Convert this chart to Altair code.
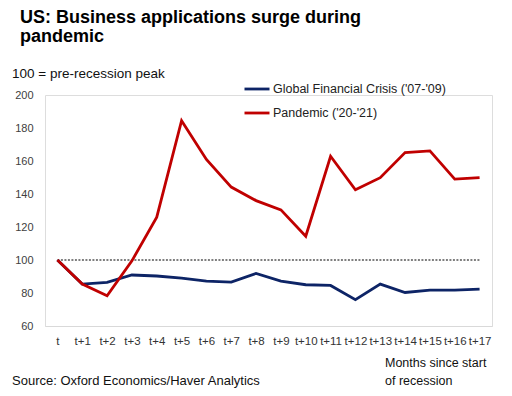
import altair as alt
import pandas as pd

months = ["t", "t+1", "t+2", "t+3", "t+4", "t+5", "t+6", "t+7", "t+8", "t+9",
          "t+10", "t+11", "t+12", "t+13", "t+14", "t+15", "t+16", "t+17"]
gfc = [100, 85.4, 86.4, 90.9, 90.3, 89.0, 87.2, 86.6, 91.9, 87.2,
       85.0, 84.6, 76.0, 85.4, 80.3, 81.7, 81.7, 82.3]
pandemic = [100, 85.4, 78.3, 99.5, 126.0, 184.4, 160.9, 144.2, 136.0, 130.4,
            114.4, 162.9, 142.6, 149.9, 165.1, 166.1, 149.0, 149.9]
series_names = ["Global Financial Crisis ('07-'09)", "Pandemic ('20-'21)"]
series_colors = ["#0d2466", "#c00000"]
y_ticks = [60, 80, 100, 120, 140, 160, 180, 200]
ref_level = 100

FONT = "Liberation Sans"

rows = []
for m, a, b in zip(months, gfc, pandemic):
    rows.append({"month": m, "series": series_names[0], "value": a})
    rows.append({"month": m, "series": series_names[1], "value": b})
df = pd.DataFrame(rows)

ref_df = pd.DataFrame({"month": [months[0], months[-1]], "value": [ref_level, ref_level]})

xscale = alt.Scale(type="point", padding=0.5, domain=months)
yscale = alt.Scale(domain=[60, 200], nice=False, zero=False)

x_enc = alt.X("month:N", sort=months, scale=xscale,
              axis=alt.Axis(title=None, labelAngle=0, labelOverlap=False, ticks=False,
                            domainColor="#d9d9d9", domainWidth=1, labelFontSize=11.5,
                            labelColor="#333333", labelPadding=9, labelFont=FONT))
y_enc = alt.Y("value:Q", scale=yscale,
              axis=alt.Axis(title=None, values=y_ticks, domain=False, ticks=False, grid=False,
                            labelFontSize=11, labelColor="#404040", labelPadding=12,
                            labelFont=FONT))

ref = alt.Chart(ref_df).mark_line(color="black", strokeDash=[2, 1.5], strokeWidth=1.2).encode(
    x=x_enc, y=y_enc)

lines = alt.Chart(df).mark_line(strokeWidth=2.8).encode(
    x=x_enc, y=y_enc,
    color=alt.Color("series:N", sort=series_names,
                    scale=alt.Scale(domain=series_names, range=series_colors),
                    legend=alt.Legend(title=None, orient="none", legendX=198, legendY=-20,
                                      symbolType="stroke", symbolSize=625,
                                      symbolStrokeWidth=2.8, labelFontSize=12.5,
                                      labelFont=FONT, labelColor="#222222",
                                      labelOffset=2, rowPadding=3, labelLimit=400)),
    order=alt.Order("series:N"))


def note(text, x, y, size, weight="normal", color="#111111"):
    return alt.Chart(pd.DataFrame({"t": [text]})).mark_text(
        align="left", baseline="alphabetic", font=FONT, fontSize=size,
        fontWeight=weight, color=color, limit=0).encode(
        text="t:N", x=alt.value(x), y=alt.value(y))


title1 = note("US: Business applications surge during", -25, -72, 18, "bold", "#000000")
title2 = note("pandemic", -25, -53, 18, "bold", "#000000")
sub = note("100 = pre-recession peak", -33, -17, 13.5)
src = note("Source: Oxford Economics/Haver Analytics", -33, 290, 13)
mo1 = note("Months since start", 340, 272, 12.5)
mo2 = note("of recession", 340, 290, 12.5)

chart = alt.layer(ref, lines, title1, title2, sub, src, mo1, mo2).properties(
    width=447, height=231,
    padding={"left": 37, "top": 87, "right": 12, "bottom": 62},
    autosize=alt.AutoSizeParams(type="none"),
).configure_view(stroke=None).configure(background="white")

chart.save("out.html", embed_options={"renderer": "svg", "actions": False})
